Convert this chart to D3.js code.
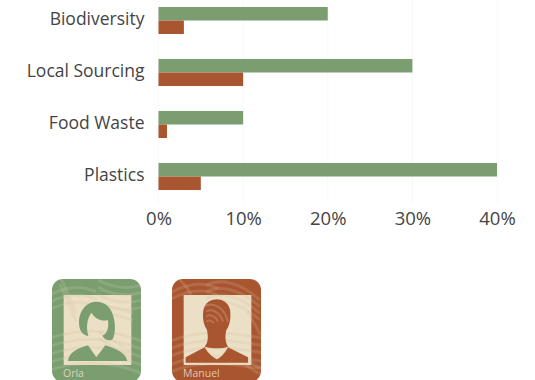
<!DOCTYPE html>
<html>
<head>
<meta charset="utf-8">
<script src="https://cdn.jsdelivr.net/npm/d3@7"></script>
<style>
  html, body { margin: 0; padding: 0; background: #fff; }
  svg { display: block; }
  text { font-family: "Open Sans", "Noto Sans", sans-serif; }
</style>
</head>
<body>
<svg id="chart" width="535" height="380"></svg>
<script>
// Share of each sustainability topic, by presenter
const categories = ["Biodiversity", "Local Sourcing", "Food Waste", "Plastics"];
const orlaValues = [20, 30, 10, 40];
const manuelValues = [3, 10, 1, 5];
const tickValues = [0, 10, 20, 30, 40];
const people = ["Orla", "Manuel"];

const GREEN = "#7a9e70";
const RUST = "#a9552f";
const CREAM = "#ebdfc6";
const INK = "#444444";

const svg = d3.select("#chart");

const x = d3.scaleLinear().domain([0, 40]).range([158.5, 497]);
const y = d3.scaleBand().domain(categories).range([-5.5, 202.5]).paddingInner(0.48).paddingOuter(0.24);
const sub = d3.scaleBand().domain(["Orla", "Manuel"]).range([0, y.bandwidth()]);

// Faint vertical gridlines
svg.append("g").selectAll("line").data(tickValues).join("line")
  .attr("x1", d => x(d)).attr("x2", d => x(d))
  .attr("y1", 0).attr("y2", 203)
  .attr("stroke", "#f8f8f8").attr("stroke-width", 1);

// Bars
const rows = svg.append("g").selectAll("g").data(categories).join("g")
  .attr("transform", d => `translate(0,${y(d)})`);
rows.append("rect")
  .attr("x", x(0)).attr("y", sub("Orla"))
  .attr("width", (d, i) => x(orlaValues[i]) - x(0))
  .attr("height", sub.bandwidth()).attr("fill", GREEN);
rows.append("rect")
  .attr("x", x(0)).attr("y", sub("Manuel"))
  .attr("width", (d, i) => x(manuelValues[i]) - x(0))
  .attr("height", sub.bandwidth()).attr("fill", RUST);

// Category axis
const yAxis = svg.append("g")
  .attr("transform", `translate(${x(0)},-1.5)`)
  .call(d3.axisLeft(y).tickSize(0).tickPadding(14));
yAxis.select(".domain").remove();
yAxis.selectAll("text").attr("font-size", 17.5).attr("fill", INK)
  .style("font-family", '"Open Sans", sans-serif');

// Value axis
const xAxis = svg.append("g")
  .attr("transform", "translate(0,207.5)")
  .call(d3.axisBottom(x).tickValues(tickValues).tickFormat(d => d + "%").tickSize(0).tickPadding(0));
xAxis.select(".domain").remove();
xAxis.selectAll("text").attr("font-size", 18.5).attr("fill", INK)
  .attr("dy", "0.95em")
  .style("font-family", '"Open Sans", sans-serif');

// Portrait cards
const cardX = d3.scalePoint().domain(people).range([52, 172]);
const cardColor = d3.scaleOrdinal().domain(people).range([GREEN, RUST]);

// Wood-grain texture: each base curve is repeated as a family of parallel strokes
const swirls = {
  Orla: [
    ["M30,75 C80,50 120,45 170,65", [0, 22, 44]],
    ["M60,20 C85,60 90,95 110,130", [0, 24]],
    ["M175,30 C210,50 260,60 310,45", [0, 22, 44, 66]],
    ["M30,205 C100,180 200,170 310,215", [0, 24, 48, 72, 96]],
    ["M175,185 C205,200 240,225 275,245", [0, 20]],
    ["M175,120 C200,110 240,110 280,130", [0, 22]]
  ],
  Manuel: [
    ["M30,70 C80,40 130,35 175,55", [0, 20]],
    ["M140,45 C180,25 240,35 300,90", [0, 20, 40, 60]],
    ["M55,25 C78,45 90,60 95,80", [0]],
    ["M30,215 C100,185 180,180 310,205", [0, 22, 44, 70, 92]],
    ["M250,255 C270,280 290,290 310,295", [0, 18]],
    ["M262,125 C280,150 292,175 302,195", [0]]
  ]
};
// Concentric grain visible on the head of the male portrait
const headGrain = {
  Orla: [],
  Manuel: [
    "M140,125 C155,115 180,125 190,155",
    "M140,140 C150,130 170,140 175,155",
    "M140,155 C148,148 158,152 162,160",
    "M135,108 C165,95 195,115 205,155"
  ]
};
const figures = {
  Orla: {
    body: "M85,273 C88,250 105,238 145,226 L170,262 L197,226 C235,238 258,250 263,273 Z",
    head: "M170,95 C138,95 118,125 118,158 C118,180 127,194 146,198 C140,175 140,150 155,128 C168,148 187,155 205,150 C208,175 202,192 188,197 C195,209 210,215 219,208 C228,190 228,160 220,135 C212,110 195,95 170,95 Z"
  },
  Manuel: {
    body: "M78,278 L78,262 L135,232 C142,245 155,260 172,268 C188,260 198,245 205,232 L265,262 L265,278 Z",
    head: "M170,88 C145,90 130,105 130,135 C130,150 132,165 142,180 C146,200 146,218 135,230 C160,236 185,236 205,230 C196,215 196,198 200,180 C212,165 214,140 211,118 C205,98 190,88 170,88 Z"
  }
};

const defs = svg.append("defs");
const cards = svg.append("g").selectAll("g").data(people).join("g")
  .attr("transform", d => `translate(${cardX(d)},279)`);

cards.each(function (name) {
  const card = d3.select(this);
  const clipId = "clip-" + name;
  defs.append("clipPath").attr("id", clipId)
    .append("rect").attr("width", 89).attr("height", 103).attr("rx", 11);

  card.append("rect").attr("width", 89).attr("height", 103).attr("rx", 11)
    .attr("fill", cardColor(name));

  // Artwork coordinates are three times the card's size
  const art = card.append("g").attr("clip-path", `url(#${clipId})`)
    .append("g").attr("transform", "translate(-12.33,-9) scale(0.3333)");

  const drawGrain = (color, opacity) => {
    const grain = art.append("g");
    swirls[name].forEach(([d, offsets]) => {
      grain.selectAll(null).data(offsets).join("path")
        .attr("d", d).attr("transform", o => `translate(0,${o})`)
        .attr("fill", "none").attr("stroke", color)
        .attr("stroke-opacity", opacity).attr("stroke-width", 9);
    });
    return grain;
  };

  drawGrain(CREAM, 0.16);

  const portraitClip = "portrait-" + name;
  defs.append("clipPath").attr("id", portraitClip)
    .append("rect").attr("x", 72).attr("y", 75).attr("width", 203).attr("height", 210);
  art.append("rect").attr("x", 72).attr("y", 75).attr("width", 203).attr("height", 210)
    .attr("fill", CREAM);
  drawGrain("#d9cba6", 0.3).attr("clip-path", `url(#${portraitClip})`);

  art.append("path").attr("d", figures[name].head).attr("fill", cardColor(name));
  art.append("path").attr("d", figures[name].body).attr("fill", cardColor(name));
  art.selectAll("path.head-grain").data(headGrain[name]).join("path")
    .attr("class", "head-grain").attr("d", d => d)
    .attr("fill", "none").attr("stroke", CREAM)
    .attr("stroke-opacity", 0.22).attr("stroke-width", 6);

  card.append("text").attr("x", 11).attr("y", 97.5)
    .attr("font-size", 10.5).attr("fill", CREAM).attr("fill-opacity", 0.85)
    .text(name);
});
</script>
</body>
</html>
